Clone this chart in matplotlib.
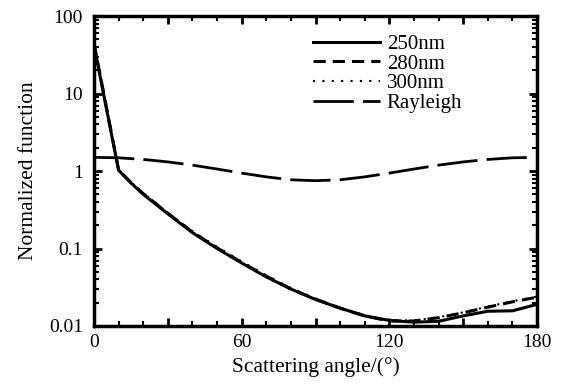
import numpy as np
import matplotlib
matplotlib.use("Agg")
import matplotlib.pyplot as plt
from matplotlib.ticker import FixedLocator, FixedFormatter, LogLocator, NullFormatter

plt.rcParams['font.family'] = ['Liberation Serif', 'DejaVu Serif']

# angles (deg)
angles = [0, 5, 10, 15, 20, 30, 40, 50, 60, 70, 80, 90, 100, 110, 120, 130, 140, 150, 160, 170, 180]

# values
nm250 = [42, 6.5, 1.02, 0.7, 0.5, 0.28, 0.16, 0.1, 0.065, 0.043, 0.03, 0.022, 0.017, 0.0135,
         0.0118, 0.0112, 0.0115, 0.0135, 0.0155, 0.0157, 0.019]
nm280 = [44, 6.8, 1.03, 0.71, 0.51, 0.285, 0.163, 0.102, 0.066, 0.044, 0.03, 0.0222, 0.017, 0.0135,
         0.0116, 0.0116, 0.0128, 0.0148, 0.0175, 0.0205, 0.0235]
nm300 = [46, 7.0, 1.04, 0.72, 0.52, 0.29, 0.167, 0.105, 0.068, 0.045, 0.031, 0.0226, 0.0173, 0.0138,
         0.0119, 0.0118, 0.013, 0.015, 0.0178, 0.0208, 0.024]

ray_angles = [0, 10, 20, 30, 40, 50, 60, 70, 80, 90, 100, 110, 120, 130, 140, 150, 160, 170, 180]
rayleigh = [1.5, 1.48, 1.41, 1.31, 1.19, 1.06, 0.94, 0.84, 0.77, 0.75, 0.77, 0.84, 0.94, 1.06,
            1.19, 1.31, 1.41, 1.48, 1.5]

fig = plt.figure(figsize=(5.67, 3.9), dpi=100)
ax = fig.add_axes([94 / 567, 1 - 326 / 390, 443 / 567, 310 / 390])

ax.plot(angles, nm250, color='black', lw=2.2, ls='-', label='250nm')
ax.plot(angles, nm280, color='black', lw=2.2, ls=(0, (4, 2.3)), label='280nm')
ax.plot(angles, nm300, color='black', lw=1.5, ls=(0, (1, 3.5)), label='300nm')
ax.plot(ray_angles, rayleigh, color='black', lw=2.0, ls=(0, (14.5, 3.3)), label='Rayleigh')

ax.set_yscale('log')
ax.set_xlim(0, 180)
ax.set_ylim(0.01, 100)

xmaj = [0, 30, 60, 90, 120, 150, 180]
ax.xaxis.set_major_locator(FixedLocator(xmaj))
ax.xaxis.set_major_formatter(FixedFormatter(['0', '', '60', '', '120', '', '180']))
ax.xaxis.set_minor_locator(FixedLocator(list(range(0, 181, 10))))

ax.yaxis.set_major_locator(FixedLocator([0.01, 0.1, 1, 10, 100]))
ax.yaxis.set_major_formatter(FixedFormatter(['0.01', '0.1', '1', '10', '100']))
ax.yaxis.set_minor_locator(LogLocator(base=10, subs=np.arange(2, 10)))
ax.yaxis.set_minor_formatter(NullFormatter())

ax.tick_params(which='both', direction='in', top=True, right=True, labelsize=14, color='black')
ax.tick_params(which='major', length=6, width=2)
ax.tick_params(which='minor', length=3.5, width=1.5)
ax.tick_params(axis='x', which='major', pad=6)
ax.tick_params(axis='y', which='major', pad=8)

for s in ax.spines.values():
    s.set_linewidth(2.5)

ax.set_xlabel('Scattering angle/(°)', fontsize=15.5, labelpad=4)
ax.set_ylabel('Normalized function', fontsize=15.5, labelpad=8)

ax.legend(loc='upper left', frameon=False, fontsize=15, handlelength=3.2,
          handletextpad=0.35, labelspacing=0.0, borderpad=0, borderaxespad=0,
          bbox_to_anchor=(0.494, 0.94))

fig.savefig('out.png', dpi=100)
